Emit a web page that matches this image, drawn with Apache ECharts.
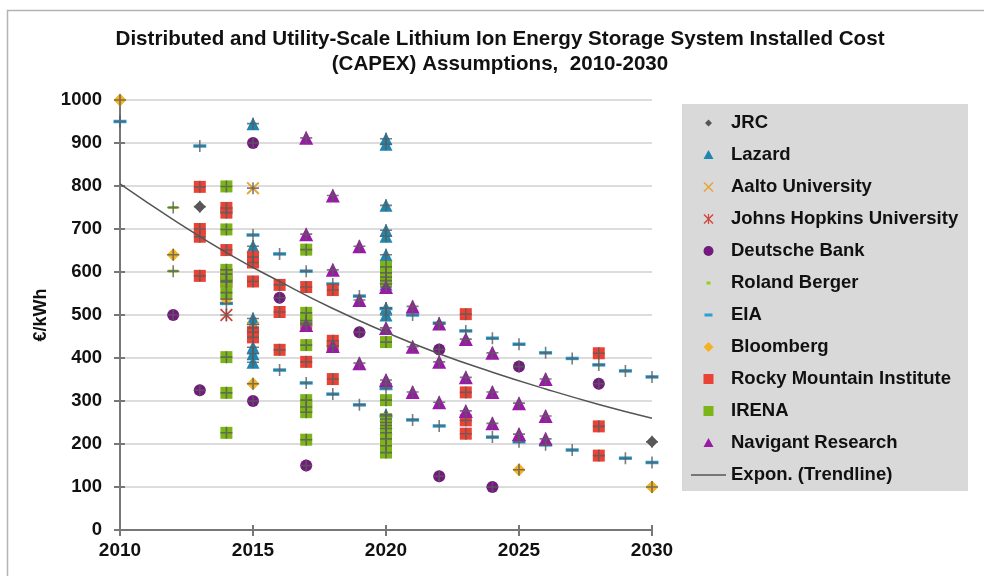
<!DOCTYPE html>
<html>
<head>
<meta charset="utf-8">
<script src="https://cdn.jsdelivr.net/npm/echarts@6/dist/echarts.min.js"></script>
<style>
  html, body { margin: 0; padding: 0; background: #fff; }
  #chart { width: 984px; height: 576px; }
</style>
</head>
<body>
<div id="chart"></div>
<script>
// values, [year, €/kWh]
const jrc = [[2013, 752], [2030, 205]]
const lazard = [[2015, 945], [2015, 660], [2015, 492], [2015, 478], [2015, 425], [2015, 410], [2015, 390],
    [2020, 910], [2020, 897], [2020, 755], [2020, 697], [2020, 683], [2020, 640], [2020, 588], [2020, 572],
    [2020, 516], [2020, 500], [2020, 340], [2020, 268], [2020, 250], [2020, 236]]
const aalto = [[2015, 795], [2015, 470]]
const johnsHopkins = [[2014, 500]]
const deutscheBank = [[2012, 500], [2013, 325], [2015, 900], [2015, 300], [2016, 540], [2017, 150],
    [2019, 460], [2022, 420], [2022, 125], [2024, 100], [2025, 380], [2028, 340]]
const rolandBerger = [[2012, 750], [2012, 602]]
const eia = [[2010, 950], [2013, 893], [2014, 527], [2015, 686], [2016, 642], [2016, 372], [2017, 602],
    [2017, 342], [2018, 572], [2018, 316], [2019, 544], [2019, 291], [2020, 515], [2020, 330], [2020, 265],
    [2021, 500], [2021, 256], [2022, 481], [2022, 242], [2023, 463], [2024, 446], [2024, 216], [2025, 432],
    [2025, 205], [2026, 412], [2026, 198], [2027, 399], [2027, 186], [2028, 384], [2029, 370], [2029, 167],
    [2030, 356], [2030, 157]]
const bloomberg = [[2010, 1000], [2012, 640], [2014, 537], [2015, 340], [2025, 140], [2030, 100]]
const rockyMountain = [[2013, 798], [2013, 700], [2013, 682], [2013, 591], [2014, 749], [2014, 738],
    [2014, 651], [2014, 595], [2014, 577], [2015, 635], [2015, 622], [2015, 578], [2015, 460], [2015, 448],
    [2016, 570], [2016, 507], [2016, 419], [2017, 565], [2017, 481], [2017, 391], [2018, 558], [2018, 440],
    [2018, 428], [2018, 351], [2023, 502], [2023, 320], [2023, 255], [2023, 224], [2028, 411], [2028, 241],
    [2028, 173]]
const irena = [[2014, 799], [2014, 699], [2014, 605], [2014, 580], [2014, 552], [2014, 402], [2014, 319],
    [2014, 226], [2017, 652], [2017, 505], [2017, 487], [2017, 430], [2017, 302], [2017, 286], [2017, 274],
    [2017, 210], [2020, 612], [2020, 598], [2020, 580], [2020, 437], [2020, 302], [2020, 258], [2020, 243],
    [2020, 226], [2020, 212], [2020, 196], [2020, 180]]
const navigant = [[2017, 912], [2017, 688], [2017, 477], [2018, 778], [2018, 605], [2018, 428], [2019, 660],
    [2019, 535], [2019, 388], [2020, 565], [2020, 470], [2020, 349], [2021, 520], [2021, 426], [2021, 321],
    [2022, 480], [2022, 391], [2022, 297], [2023, 444], [2023, 355], [2023, 277], [2024, 412], [2024, 321],
    [2024, 248], [2025, 295], [2025, 223], [2026, 351], [2026, 265], [2026, 212]]
const trendYears = [2010, 2012, 2014, 2016, 2018, 2020, 2022, 2024, 2026, 2028, 2030]
const trendValues = [805, 722, 645, 578, 515, 460, 410, 367, 328, 292, 260]

const FONT = 'Liberation Sans, Arial, sans-serif'

// marker shapes
const TRI = 'path://M6,0L12,10.5L0,10.5Z'
const DIAMOND = 'path://M5,0L10,5L5,10L0,5Z'
const SQUARE = 'path://M0,0H10V10H0Z'
const CROSS = 'path://M0,1L1,0L10,9L9,10Z M9,0L10,1L1,10L0,9Z'
const STAR = 'path://M0,1L1,0L10,9L9,10Z M9,0L10,1L1,10L0,9Z M4.4,0H5.6V10H4.4Z'
const DASH = 'path://M0,0H12V3H0Z'
const PLUS = 'path://M5.2,0H6.8V12H5.2Z M0,5.2H12V6.8H0Z'

// legend icons live in a 35x10 box; the empty corner points pin the box size
const BOX = 'path://M0,0L0,0Z M35,10L35,10Z '
const legendIcons = {
    'JRC': BOX + 'M17.5,1.5L21,5L17.5,8.5L14,5Z',
    'Lazard': BOX + 'M17.5,0L22.5,9L12.5,9Z',
    'Aalto University': CROSS,
    'Johns Hopkins University': STAR,
    'Deutsche Bank': 'circle',
    'Roland Berger': BOX + 'M15.5,3.5H19.5V6.5H15.5Z',
    'EIA': BOX + 'M13.5,3.5H21.5V6.5H13.5Z',
    'Bloomberg': BOX + 'M17.5,0L22.5,5L17.5,10L12.5,5Z',
    'Rocky Mountain Institute': BOX + 'M12.5,0H22.5V10H12.5Z',
    'IRENA': BOX + 'M12.5,0H22.5V10H12.5Z',
    'Navigant Research': BOX + 'M17.5,0L22.5,9L12.5,9Z',
}

const groups = [
    { name: 'JRC', data: jrc, color: '#555555', symbol: DIAMOND, size: 12 },
    { name: 'Lazard', data: lazard, color: '#1f86b0', symbol: TRI, size: 13 },
    { name: 'Aalto University', data: aalto, color: '#e8a232', symbol: CROSS, size: 13 },
    { name: 'Johns Hopkins University', data: johnsHopkins, color: '#d2463c', symbol: STAR, size: 13 },
    { name: 'Deutsche Bank', data: deutscheBank, color: '#731a7e', symbol: 'circle', size: 12 },
    { name: 'Roland Berger', data: rolandBerger, color: '#8fd21a', symbol: DASH, size: [10, 3] },
    { name: 'EIA', data: eia, color: '#2aa0d6', symbol: DASH, size: [13, 3.5] },
    { name: 'Bloomberg', data: bloomberg, color: '#f4b223', symbol: DIAMOND, size: 13 },
    { name: 'Rocky Mountain Institute', data: rockyMountain, color: '#ea4335', symbol: SQUARE, size: 12 },
    { name: 'IRENA', data: irena, color: '#7cb518', symbol: SQUARE, size: 12 },
    { name: 'Navigant Research', data: navigant, color: '#991aa6', symbol: TRI, size: 14 },
]

const series = groups.map(g => ({
    name: g.name,
    type: 'scatter',
    data: g.data,
    symbol: g.symbol,
    symbolSize: g.size,
    itemStyle: { color: g.color, opacity: 1 },
    z: 3,
}))

// the grey error crosses drawn over every point
series.push({
    name: 'errors',
    type: 'scatter',
    data: groups.flatMap(g => g.data),
    symbol: PLUS,
    symbolSize: 12,
    itemStyle: { color: '#5b5b5b' },
    silent: true,
    z: 4,
})

series.push({
    name: 'Expon. (Trendline)',
    type: 'line',
    data: trendYears.map((y, i) => [y, trendValues[i]]),
    smooth: true,
    symbol: 'none',
    itemStyle: { color: '#555' },
    lineStyle: { color: '#555', width: 1.5 },
    z: 5,
})

const labelStyle = { fontFamily: FONT, fontWeight: 'bold', color: '#111' }

const option = {
    animation: false,
    backgroundColor: '#fff',
    title: {
        text: 'Distributed and Utility-Scale Lithium Ion Energy Storage System Installed Cost\n(CAPEX) Assumptions,  2010-2030',
        left: 495,
        textAlign: 'center',
        top: 22,
        padding: 5,
        textStyle: { ...labelStyle, fontSize: 20.6, lineHeight: 25 },
    },
    graphic: [
        { type: 'rect', left: 5, top: 8, shape: { width: 1000, height: 600 },
          style: { fill: 'none', stroke: '#b3b3b3', lineWidth: 1.5 }, silent: true },
        { type: 'rect', left: 682, top: 104, shape: { width: 286, height: 387 },
          style: { fill: '#d9d9d9' }, silent: true, z: -1 },
    ],
    legend: [
        {
            data: groups.map(g => ({ name: g.name, icon: legendIcons[g.name] })),
            orient: 'vertical',
            left: 686,
            top: 108,
            itemWidth: 35,
            itemHeight: 10,
            itemGap: 12,
            symbolKeepAspect: true,
            textStyle: { ...labelStyle, fontSize: 18.5, lineHeight: 20 },
        },
        {
            data: [{ name: 'Expon. (Trendline)', icon: 'path://M0,4.3H35V5.7H0Z' }],
            left: 686,
            top: 460,
            itemWidth: 35,
            itemHeight: 10,
            textStyle: { ...labelStyle, fontSize: 18.5, lineHeight: 20 },
        },
    ],
    grid: { left: 120, right: 332, top: 100, bottom: 46 },
    xAxis: [
        {
            type: 'value', min: 2010, max: 2030, interval: 5,
            axisLine: { lineStyle: { color: '#777', width: 2 } },
            axisTick: { length: 6, lineStyle: { color: '#777', width: 2 } },
            axisLabel: { ...labelStyle, fontSize: 19, margin: 11, formatter: v => String(v) },
            splitLine: { show: false },
        },
        {
            type: 'value', min: 2010, max: 2030, interval: 5, position: 'bottom', offset: 0,
            axisLine: { show: false },
            axisTick: { inside: true, length: 5, lineStyle: { color: '#777', width: 2 } },
            axisLabel: { show: false },
            splitLine: { show: false },
        },
    ],
    yAxis: [
        {
            type: 'value', min: 0, max: 1000, interval: 100,
            name: '€/kWh', nameLocation: 'middle', nameGap: 70,
            nameTextStyle: { ...labelStyle, fontSize: 18 },
            axisLine: { show: true, lineStyle: { color: '#777', width: 2 } },
            axisTick: { show: true, length: 6, lineStyle: { color: '#777', width: 2 } },
            axisLabel: { ...labelStyle, fontSize: 18.5, margin: 18, formatter: v => String(v) },
            splitLine: { lineStyle: { color: '#dcdcdc', width: 2 } },
        },
        {
            type: 'value', min: 0, max: 1000, interval: 100, position: 'left', offset: 0,
            axisLine: { show: false },
            axisTick: { show: true, inside: true, length: 5, lineStyle: { color: '#777', width: 2 } },
            axisLabel: { show: false },
            splitLine: { show: false },
        },
    ],
    series: series,
}

const chart = echarts.init(document.getElementById('chart'))
chart.setOption(option)
</script>
</body>
</html>
